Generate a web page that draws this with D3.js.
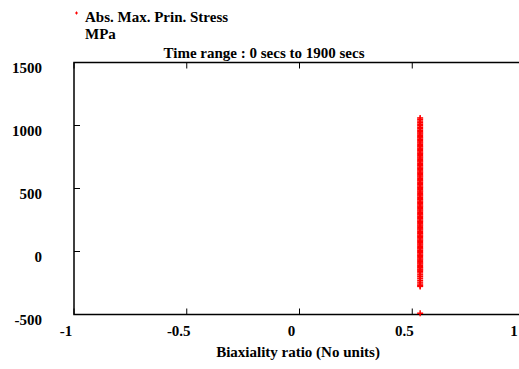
<!DOCTYPE html>
<html><head><meta charset="utf-8">
<script src="https://cdn.jsdelivr.net/npm/d3@7"></script>
<style>body{margin:0;background:#fff}svg{display:block}text{font-family:"Liberation Serif","Times New Roman",serif;font-weight:bold;font-size:15px;fill:#000}</style>
</head><body>
<script>
const seriesName = "Abs. Max. Prin. Stress";
const seriesUnit = "MPa";
const titleText = "Time range : 0 secs to 1900 secs";
const xTitle = "Biaxiality ratio (No units)";
const xTicks = [-1, -0.5, 0, 0.5, 1];
const xTickLabels = ["-1", "-0.5", "0", "0.5", "1"];
const yTicks = [-500, 0, 500, 1000, 1500];
const yTickLabels = ["-500", "0", "500", "1000", "1500"];
const biaxiality = 0.535;
const stressValues = [1060, 1048, 1035, 1022, 1010, 998, 985, 974,
  962,951,941,932,921,911,902,891,881,870,861,850,840,831,820,810,801,790,780,771,760,750,
  741,730,720,711,700,690,681,670,660,651,640,630,621,610,600,591,580,570,561,550,540,531,
  520,510,501,490,480,471,460,450,441,430,420,411,400,390,381,370,360,351,340,330,321,310,
  300,291,280,270,261,250,240,231,220,210,201,190,180,171,160,150,141,130,120,111,100,90,
  81,70,60,51,40,30,21,10,0,-9,-20,-30,-39,-50,-60,-69,-80,-90,-99,-110,-120,-129,-140,-148,
  -158,-170,-185,-198,-212,-228,-243,-258,-270,-277,-490];

const W = 519, H = 369;
const svg = d3.select("body").append("svg").attr("width", W).attr("height", H);
const x = d3.scaleLinear().domain([-1, 1]).range([74, 525]);
const y = d3.scaleLinear().domain([-500, 1500]).range([314.5, 62.5]);

svg.append("rect").attr("x", x(-1)).attr("y", y(1500)).attr("width", x(1) - x(-1)).attr("height", y(-500) - y(1500))
  .attr("fill", "none").attr("stroke", "#000").attr("stroke-width", 1.5);

const tl = 6;
xTicks.forEach(v => {
  svg.append("line").attr("x1", x(v)).attr("x2", x(v)).attr("y1", y(1500)).attr("y2", y(1500) + tl).attr("stroke", "#000");
  svg.append("line").attr("x1", x(v)).attr("x2", x(v)).attr("y1", y(-500)).attr("y2", y(-500) - tl).attr("stroke", "#000");
});
yTicks.forEach(v => {
  svg.append("line").attr("x1", x(-1)).attr("x2", x(-1) + tl).attr("y1", y(v)).attr("y2", y(v)).attr("stroke", "#000");
  svg.append("line").attr("x1", x(1)).attr("x2", x(1) - tl).attr("y1", y(v)).attr("y2", y(v)).attr("stroke", "#000");
});

xTicks.forEach((v, i) => {
  svg.append("text").attr("x", Math.min(x(v) - 8, W - 5)).attr("y", 336).attr("text-anchor", "middle").text(xTickLabels[i]);
});
yTicks.forEach((v, i) => {
  svg.append("text").attr("x", 42).attr("y", y(v) + 10).attr("text-anchor", "end").text(yTickLabels[i]);
});

svg.append("text").attr("x", 264).attr("y", 58).attr("text-anchor", "middle").text(titleText);
svg.append("text").attr("x", 298).attr("y", 357).attr("text-anchor", "middle").text(xTitle);

const plus = (g, cx, cy, r, sw) => {
  g.append("line").attr("x1", cx - r).attr("x2", cx + r).attr("y1", cy).attr("y2", cy).attr("stroke", "red").attr("stroke-width", sw);
  g.append("line").attr("x1", cx).attr("x2", cx).attr("y1", cy - r).attr("y2", cy + r).attr("stroke", "red").attr("stroke-width", sw);
};
plus(svg, 76.5, 13, 1.5, 1);
svg.append("text").attr("x", 85).attr("y", 22).text(seriesName);
svg.append("text").attr("x", 85).attr("y", 39).text(seriesUnit);

const g = svg.append("g");
stressValues.forEach(v => plus(g, x(biaxiality), y(v), 3, 1.5));
</script>
</body></html>
